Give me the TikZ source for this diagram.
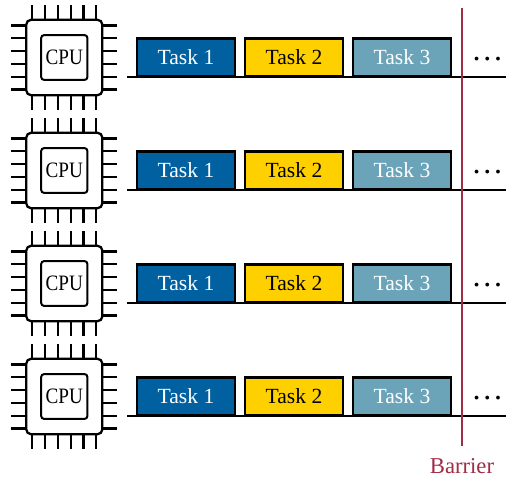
\documentclass[tikz,border=0pt]{standalone}
\usepackage{fontspec}
\setmainfont{Liberation Serif}
\newfontfamily\corefont[FakeStretch=0.87]{Liberation Serif}
\usetikzlibrary{positioning}
\definecolor{taskone}{RGB}{0, 96, 160}
\definecolor{tasktwo}{RGB}{255, 208, 0}
\definecolor{taskthree}{RGB}{107, 163, 184}
\definecolor{barrier}{RGB}{160, 44, 70}

\begin{document}
\begin{tikzpicture}[
    x=0.75pt, y=-0.75pt,
    node distance=7.5pt,
    chip/.style={
        rectangle, rounded corners=3.5pt,
        minimum width=57pt, minimum height=56.5pt,
        draw=black, line width=1.7pt, fill=white
    },
    core/.style={
        rectangle, rounded corners=2pt,
        minimum width=34.5pt, minimum height=33.5pt,
        draw=black, line width=1.5pt,
        font=\corefont\fontsize{16.5}{18}\selectfont
    },
    task/.style={
        rectangle, outer sep=0pt,
        minimum width=73.5pt, minimum height=28.5pt,
        draw=black, line width=1.7pt,
        font=\fontsize{16.2}{18}\selectfont
    },
    pin/.style={
        line width=1.7pt, draw=black
    },
    timeline/.style={
        line width=1.7pt, draw=black
    }
]

\useasboundingbox (0, 0) rectangle (506, 481);

% One row per processor
\foreach \r/\y in {1/57.5, 2/170.5, 3/283.5, 4/396.5} {
    \node[chip] (cpu\r) at (64.3, \y) {};
    \node[core] (core\r) at (cpu\r.center) {CPU};

    % Pins
    \foreach \p in {-24, -14.4, -4.8, 4.8, 14.4, 24} {
        \draw[pin] ([xshift=\p pt]cpu\r.north) -- ++(0, -13.5);
        \draw[pin] ([xshift=\p pt]cpu\r.south) -- ++(0, 13.5);
        \draw[pin] ([yshift=\p pt]cpu\r.west) -- ++(-14, 0);
        \draw[pin] ([yshift=\p pt]cpu\r.east) -- ++(14, 0);
    }

    % Tasks
    \node[task, fill=taskone, text=white] (first\r) at (186, \y) {Task 1};
    \node[task, fill=tasktwo, right=of first\r] (second\r) {Task 2};
    \node[task, fill=taskthree, text=white, right=of second\r] (third\r) {Task 3};
    \node[font=\fontsize{24}{24}\selectfont, inner sep=0pt, right=15pt of third\r, yshift=-1.5pt] (dots\r) {…};

    \coordinate (start\r) at (127, \y+19.5);
    \coordinate (end\r) at (506, \y+19.5);
    \draw[timeline] (start\r) -- (end\r);
}

% Barrier
\coordinate (top) at (462, 8);
\node[text=barrier, font=\fontsize{17}{19}\selectfont] (label) at (462, 466) {Barrier};
\draw[barrier, line width=1.5pt] (top) -- (462, 446);

\end{tikzpicture}
\end{document}
